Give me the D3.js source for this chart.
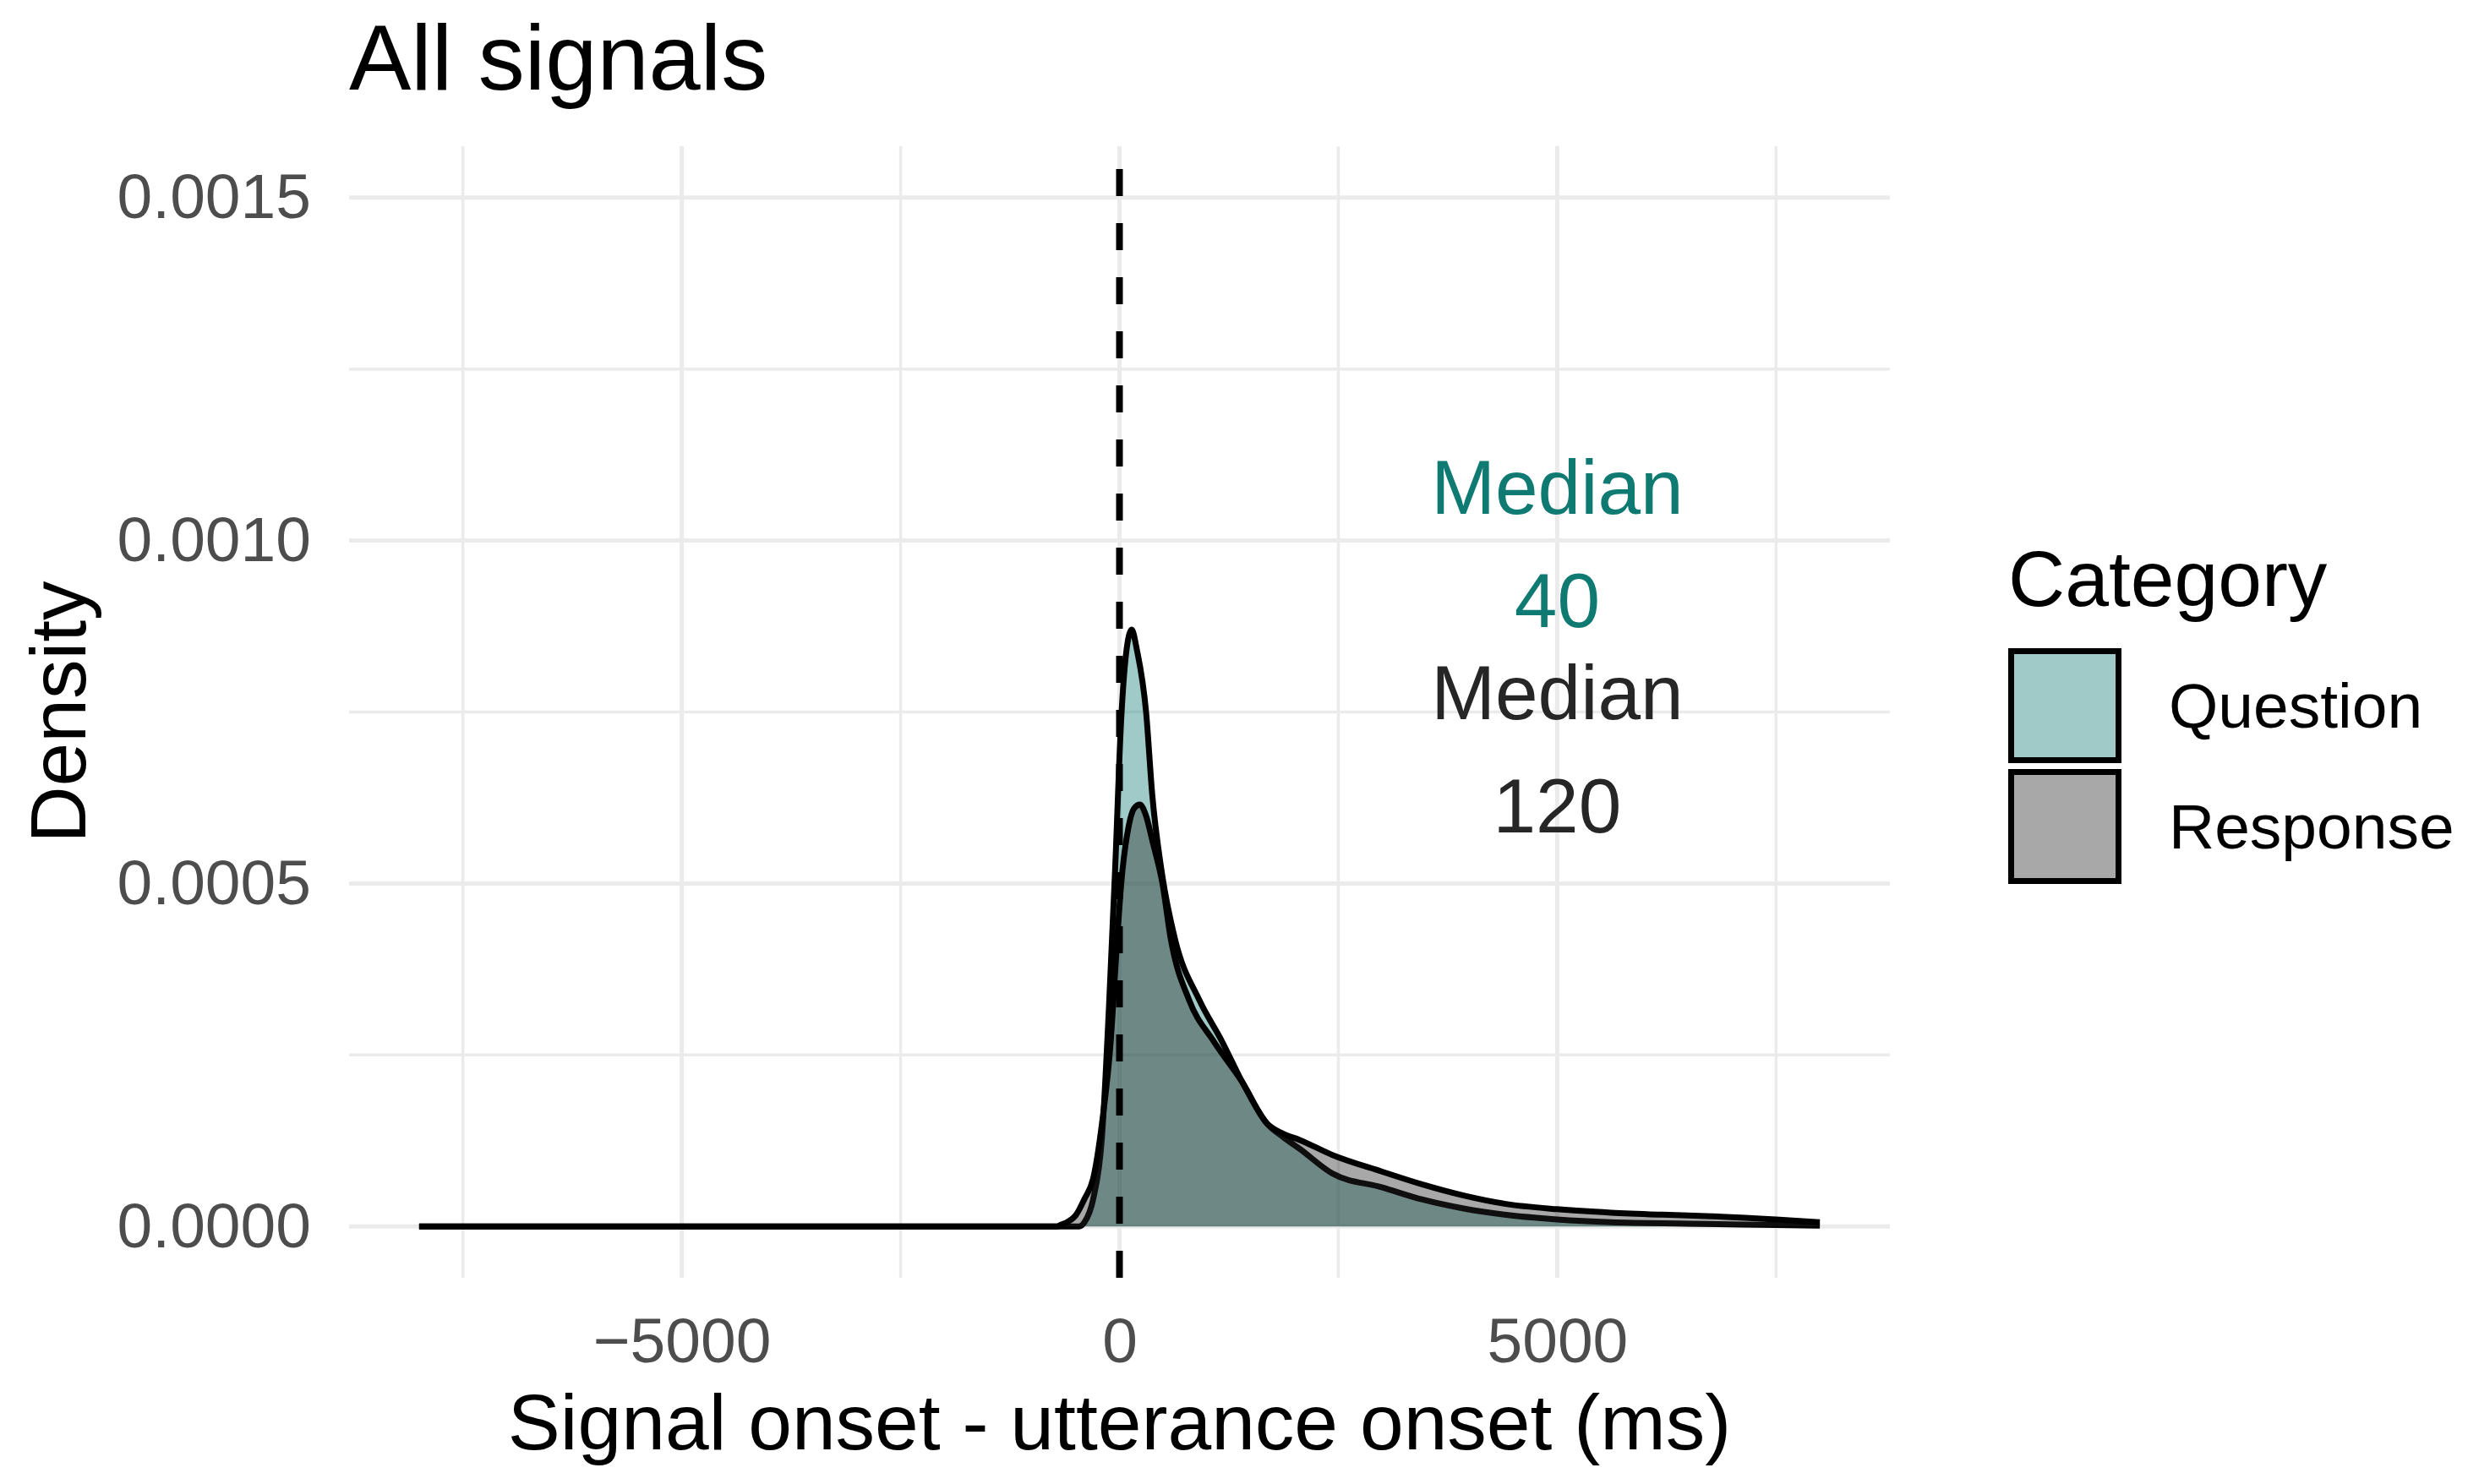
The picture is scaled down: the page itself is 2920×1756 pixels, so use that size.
<!DOCTYPE html>
<html>
<head>
<meta charset="utf-8">
<script src="https://cdn.jsdelivr.net/npm/d3@7"></script>
<style>
  body { margin: 0; background: #fff; }
  svg { display: block; font-family: "Liberation Sans", Arial, sans-serif; }
</style>
</head>
<body>
<div id="chart"></div>
<script>
// density curves (x in ms, y density)
var questionX = [-8000, -700, -460, -400, -300, -200, -120, -50, 20, 80, 140, 200, 304, 374, 491, 632, 912, 1170, 1404, 1685, 1872, 2059, 2433, 2995, 3463, 3931, 4399, 5000, 5616, 6500, 7500, 8000];
var questionY = [0, 0, 0, 0.000006, 0.00004, 0.00013, 0.00032, 0.00052, 0.00074, 0.00084, 0.00087, 0.00084, 0.00075, 0.00063, 0.00051, 0.00042, 0.00033, 0.00027, 0.00021, 0.00015, 0.00013, 0.000113, 0.000077, 0.000057, 0.000039, 0.000026, 0.000017, 0.00001, 0.000006, 0.000004, 0.000002, 0.000001];

var responseX = [-8000, -700, -690, -600, -500, -400, -300, -200, -100, -40, 20, 100, 170, 234, 300, 380, 491, 585, 795, 1076, 1404, 1685, 1872, 2059, 2433, 2995, 3463, 3931, 4399, 5000, 5616, 6200, 6700, 7500, 8000];
var responseY = [0, 0, 0.000001, 0.000006, 0.000016, 0.00004, 0.00007, 0.00015, 0.00027, 0.00039, 0.0005, 0.00058, 0.00061, 0.000615, 0.0006, 0.00056, 0.0005, 0.00042, 0.00033, 0.00027, 0.00021, 0.00015, 0.000135, 0.000126, 0.000104, 0.00008, 0.000061, 0.000045, 0.000033, 0.000025, 0.00002, 0.000017, 0.000015, 0.00001, 0.000006];

var categories = ["Question", "Response"];
var catColors = ["#0f7a72", "#262626"];

var xTicks = [-5000, 0, 5000];
var xMinor = [-7500, -2500, 2500, 7500];
var yTicks = [0, 0.0005, 0.001, 0.0015];
var yMinor = [0.00025, 0.00075, 0.00125];

var medianLabels = [
  {lines: ["Median", "40"], x: 5000, y: 0.001, color: "#0f7a72"},
  {lines: ["Median", "120"], x: 5000, y: 0.0007, color: "#262626"}
];

function draw() {
  var width = 2920, height = 1756;
  var pLeft = 413, pRight = 2236, pTop = 173, pBottom = 1512;

  var svg = d3.select("#chart").append("svg")
    .attr("width", width)
    .attr("height", height);

  var x = d3.scaleLinear().domain([-8800, 8800]).range([pLeft, pRight]);
  var y = d3.scaleLinear().domain([-0.000075, 0.001575]).range([pBottom, pTop]);

  // grid
  var grid = svg.append("g");
  grid.selectAll(".xminor").data(xMinor).enter().append("line")
    .attr("x1", d => x(d)).attr("x2", d => x(d))
    .attr("y1", pTop).attr("y2", pBottom)
    .style("stroke", "#ebebeb").style("stroke-width", 3.5);
  grid.selectAll(".yminor").data(yMinor).enter().append("line")
    .attr("x1", pLeft).attr("x2", pRight)
    .attr("y1", d => y(d)).attr("y2", d => y(d))
    .style("stroke", "#ebebeb").style("stroke-width", 3.5);
  grid.selectAll(".xmajor").data(xTicks).enter().append("line")
    .attr("x1", d => x(d)).attr("x2", d => x(d))
    .attr("y1", pTop).attr("y2", pBottom)
    .style("stroke", "#ebebeb").style("stroke-width", 5);
  grid.selectAll(".ymajor").data(yTicks).enter().append("line")
    .attr("x1", pLeft).attr("x2", pRight)
    .attr("y1", d => y(d)).attr("y2", d => y(d))
    .style("stroke", "#ebebeb").style("stroke-width", 5);

  // axes
  var yAxis = svg.append("g")
    .attr("transform", "translate(" + pLeft + ",0)")
    .call(d3.axisLeft(y).tickValues(yTicks).tickSize(0).tickPadding(45).tickFormat(d3.format(".4f")));
  var xAxis = svg.append("g")
    .attr("transform", "translate(0," + pBottom + ")")
    .call(d3.axisBottom(x).tickValues(xTicks).tickSize(0).tickPadding(47).tickFormat(d => d < 0 ? "\u2212" + Math.abs(d) : d));
  [xAxis, yAxis].forEach(function(a) {
    a.select(".domain").remove();
    a.selectAll("text")
      .style("font-size", "75px")
      .style("font-family", "'Liberation Sans', Arial, sans-serif")
      .style("fill", "#4d4d4d");
  });

  // densities
  var series = [
    {name: "Question", xs: questionX, ys: questionY, color: catColors[0]},
    {name: "Response", xs: responseX, ys: responseY, color: catColors[1]}
  ];

  var area = d3.area()
    .x(d => x(d[0])).y0(y(0)).y1(d => y(d[1]))
    .curve(d3.curveMonotoneX);
  var line = d3.line()
    .x(d => x(d[0])).y(d => y(d[1]))
    .curve(d3.curveMonotoneX);

  series.forEach(function(s) {
    var pts = s.xs.map((v, i) => [v, s.ys[i]]);
    svg.append("path").datum(pts)
      .attr("d", area)
      .style("fill", s.color).style("fill-opacity", 0.4)
      .style("stroke", "none");
    svg.append("path").datum(pts)
      .attr("d", line)
      .style("fill", "none").style("stroke", "#000")
      .style("stroke-width", 7).style("stroke-linejoin", "round");
  });

  // dashed line at 0
  svg.append("line")
    .attr("x1", x(0)).attr("x2", x(0))
    .attr("y1", pBottom).attr("y2", pTop)
    .style("stroke", "#000").style("stroke-width", 8)
    .style("stroke-dasharray", "32,32");

  // median labels
  medianLabels.forEach(function(m) {
    var t = svg.append("text")
      .attr("text-anchor", "middle")
      .style("font-size", "91px")
      .style("fill", m.color);
    t.append("tspan").attr("x", x(m.x)).attr("y", y(m.y) - 32).text(m.lines[0]);
    t.append("tspan").attr("x", x(m.x)).attr("y", y(m.y) + 102).text(m.lines[1]);
  });

  // titles
  svg.append("text")
    .attr("x", pLeft).attr("y", 106)
    .style("font-size", "110px").style("fill", "#000")
    .text("All signals");

  svg.append("text")
    .attr("x", (pLeft + pRight) / 2).attr("y", 1715)
    .attr("text-anchor", "middle")
    .style("font-size", "93px").style("fill", "#000")
    .text("Signal onset - utterance onset (ms)");

  svg.append("text")
    .attr("transform", "translate(101," + ((pTop + pBottom) / 2) + ") rotate(-90)")
    .attr("text-anchor", "middle")
    .style("font-size", "93px").style("fill", "#000")
    .text("Density");

  // legend
  var legend = svg.append("g").attr("transform", "translate(2376,0)");
  legend.append("text")
    .attr("x", 0).attr("y", 717)
    .style("font-size", "93px").style("fill", "#000")
    .text("Category");

  var keys = legend.selectAll(".key").data(categories).enter().append("g")
    .attr("transform", (d, i) => "translate(0," + (767 + i * 143) + ")");
  keys.append("rect")
    .attr("x", 3.5).attr("y", 3.5)
    .attr("width", 127).attr("height", 129)
    .style("fill", (d, i) => catColors[i]).style("fill-opacity", 0.4)
    .style("stroke", "#000").style("stroke-width", 7);
  keys.append("text")
    .attr("x", 190).attr("y", 68)
    .attr("dy", "0.35em")
    .style("font-size", "75px").style("fill", "#000")
    .text(d => d);
}

draw();
</script>
</body>
</html>
